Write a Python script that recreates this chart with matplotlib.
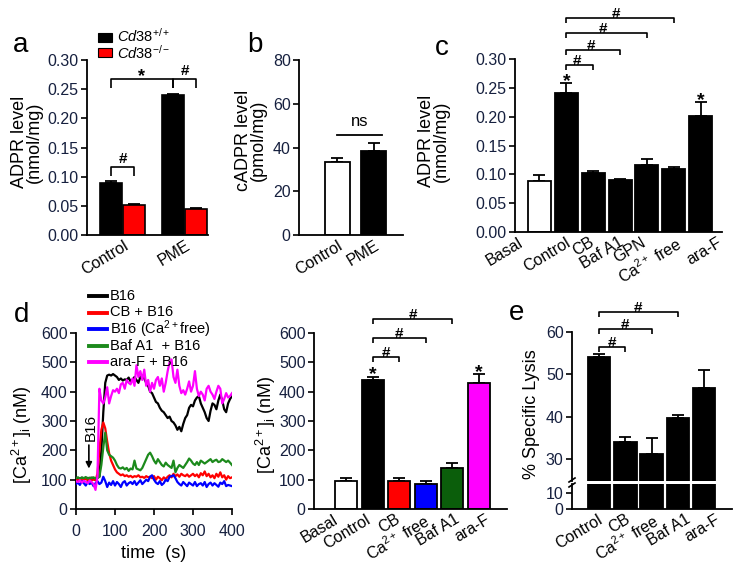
import numpy as np
import matplotlib
matplotlib.use('Agg')
import matplotlib.pyplot as plt
from matplotlib.lines import Line2D
from matplotlib.patches import Rectangle

plt.rcParams['font.family'] = ['Liberation Sans', 'DejaVu Sans']
plt.rcParams['mathtext.fontset'] = 'custom'
plt.rcParams['mathtext.rm'] = 'Liberation Sans'
plt.rcParams['mathtext.it'] = 'Liberation Sans:italic'
plt.rcParams['mathtext.bf'] = 'Liberation Sans:bold'

# ---------------- data ----------------
a_groups = ['Control', 'PME']
a_wt = [0.090, 0.240]
a_wt_err = [0.003, 0.002]
a_ko = [0.052, 0.045]
a_ko_err = [0.002, 0.002]

b_cats = ['Control', 'PME']
b_vals = [33.5, 38.5]
b_err = [1.5, 3.5]

c_cats = ['Basal', 'Control', 'CB', 'Baf A1', 'GPN', 'Ca$^{2+}$ free', 'ara-F']
c_vals = [0.089, 0.241, 0.102, 0.090, 0.116, 0.110, 0.201]
c_err = [0.009, 0.017, 0.004, 0.002, 0.011, 0.003, 0.024]

d_time = list(range(0, 401, 5))
d_b16 = [103, 106, 104, 107, 105, 103, 106, 104, 107, 105, 104, 106,
         110, 200, 330, 430, 455, 458, 455, 460, 455, 450, 440, 445, 438,
         442, 440, 448, 435, 440, 450, 440, 430, 450, 455, 445, 430, 420,
         400, 395, 380, 365, 360, 345, 335, 330, 320, 310, 315, 300, 295,
         285, 270, 280, 265, 290, 310, 320, 345, 355, 350, 370, 380, 385,
         360, 345, 330, 310, 300, 335, 360, 355, 340, 370, 390, 370, 340,
         330, 360, 375, 385]
d_cb = [100, 98, 102, 97, 100, 103, 98, 101, 99, 100, 98, 120,
        200, 270, 295, 275, 230, 190, 165, 150, 135, 125, 120, 115, 118,
        112, 115, 110, 113, 108, 112, 110, 115, 108, 110, 106, 112, 108,
        110, 105, 112, 100, 110, 105, 98, 108, 102, 110, 115, 108, 120,
        112, 118, 110, 120, 115, 112, 118, 110, 115, 120, 112, 118, 108,
        122, 115, 128, 112, 120, 108, 115, 105, 120, 110, 125, 108, 115,
        100, 112, 105, 108]
d_cafree = [85, 90, 82, 95, 88, 80, 92, 85, 90, 78, 88, 95,
            85, 90, 110, 95, 75, 90, 82, 95, 80, 92, 85, 75, 90,
            95, 80, 88, 92, 85, 95, 82, 90, 98, 85, 92, 100, 95,
            110, 115, 100, 90, 85, 95, 82, 88, 100, 95, 110, 112, 115,
            105, 92, 85, 80, 92, 85, 78, 90, 85, 80, 92, 78, 85,
            88, 80, 92, 75, 85, 90, 80, 88, 82, 76, 90, 85, 95,
            78, 82, 80, 78]
d_baf = [105, 108, 104, 107, 105, 109, 104, 107, 105, 108, 104, 106,
         110, 150, 210, 260, 200, 185, 180, 175, 165, 150, 140, 138, 142,
         135, 140, 130, 138, 135, 165, 138, 135, 132, 140, 155, 170, 185,
         192, 180, 165, 155, 170, 160, 150, 145, 158, 150, 145, 140, 165,
         125, 140, 150, 145, 140, 150, 160, 172, 165, 155, 150, 160, 150,
         165, 160, 155, 160, 165, 170, 160, 165, 168, 160, 162, 170, 165,
         160, 165, 158, 150]
d_araf = [95, 92, 98, 90, 96, 93, 88, 97, 92, 85, 65, 110,
          410, 370, 360, 380, 415, 360, 385, 405, 400, 410, 395, 425, 430,
          410, 440, 430, 425, 445, 420, 490, 450, 470, 440, 475, 420, 440,
          400, 430, 410, 440, 450, 420, 445, 400, 430, 470, 500, 510, 450,
          430, 475, 420, 395, 405, 390, 410, 435, 400, 420, 470, 410, 385,
          400, 390, 370, 410, 420, 400, 390, 375, 400, 420, 410, 360, 375,
          395, 380, 385, 395]
d_series_labels = ['B16', 'CB + B16', 'B16 (Ca$^{2+}$free)', 'Baf A1  + B16', 'ara-F + B16']

dbar_cats = ['Basal', 'Control', 'CB', 'Ca$^{2+}$ free', 'Baf A1', 'ara-F']
dbar_vals = [96, 439, 96, 85, 139, 428]
dbar_err = [9, 12, 9, 11, 19, 32]

e_cats = ['Control', 'CB', 'Ca$^{2+}$ free', 'Baf A1', 'ara-F']
e_vals = [54.1, 34.0, 31.2, 39.8, 46.8]
e_err = [0.6, 1.3, 3.8, 0.7, 4.2]

# ---------------- layout helpers ----------------
W, H = 735, 566
fig = plt.figure(figsize=(7.35, 5.66), dpi=100)

def rect(l, t, r, b):
    return [l / W, 1 - b / H, (r - l) / W, (b - t) / H]

def fx(x):
    return x / W

def fy(y):
    return 1 - y / H

TICK_C = '#16203f'
FS_TICK = 11.5
FS_LAB = 13
ROT = 31

def style(ax):
    for s in ['top', 'right']:
        ax.spines[s].set_visible(False)
    for s in ['left', 'bottom']:
        ax.spines[s].set_linewidth(1.3)
    ax.tick_params(axis='y', direction='out', length=4, width=1.2,
                   labelsize=FS_TICK, labelcolor=TICK_C, pad=2)
    ax.tick_params(axis='x', length=0, labelsize=FS_TICK, pad=2)

def xlabels(ax, pos, labels):
    ax.set_xticks(pos)
    ax.set_xticklabels(labels, rotation=ROT, ha='right', va='top',
                       rotation_mode='anchor')

def errs(ax, x, v, e):
    ax.errorbar(x, v, yerr=[np.zeros(len(e)), e], fmt='none', ecolor='k',
                elinewidth=1.3, capsize=4, capthick=1.3, zorder=1)

def bracket(ax, x1, x2, y, h, txt, off=3, fs=11, tx=None):
    ax.plot([x1, x1, x2, x2], [y - h, y, y, y - h], color='k', lw=1.2,
            clip_on=False, solid_capstyle='butt')
    xm = (x1 + x2) / 2 if tx is None else tx
    ax.annotate(txt, xy=(xm, y), xytext=(0, off),
                textcoords='offset points', ha='center', va='baseline',
                fontsize=fs, fontweight='bold', annotation_clip=False)

def star(ax, x, y, off=-2, fs=14):
    ax.annotate('*', xy=(x, y), xytext=(0, off), textcoords='offset points',
                ha='center', va='baseline', fontsize=fs, fontweight='bold',
                annotation_clip=False)

def ylabel(x, y, s, fs=FS_LAB):
    fig.text(fx(x), fy(y), s, rotation=90, ha='center', va='center',
             fontsize=fs, linespacing=0.85)

def letter(x, y, s):
    fig.text(fx(x), fy(y), s, ha='left', va='baseline', fontsize=20)

# ---------------- panel a ----------------
axa = fig.add_axes(rect(87, 60, 208, 235))
style(axa)
ga = np.arange(len(a_groups))
wa = 0.355
off_a = 0.19
axa.bar(ga - off_a, a_wt, width=wa, color='black', edgecolor='black', lw=1.2, zorder=2)
axa.bar(ga + off_a, a_ko, width=wa, color='#ff0000', edgecolor='black', lw=1.2, zorder=2)
errs(axa, ga - off_a, a_wt, a_wt_err)
errs(axa, ga + off_a, a_ko, a_ko_err)
axa.set_xlim(-0.573, 1.379)
axa.set_ylim(0, 0.30)
axa.set_yticks(np.arange(0, 0.301, 0.05))
axa.set_yticklabels(['%.2f' % v for v in np.arange(0, 0.301, 0.05)])
xlabels(axa, ga + 0.02, a_groups)
bracket(axa, -off_a, off_a, 0.117, 0.016, '#')
bracket(axa, -off_a, 1 - off_a, 0.268, 0.016, '*', off=-2, fs=13)
bracket(axa, 1 - off_a, 1 + off_a, 0.268, 0.016, '#')
ylabel(27, 142, 'ADPR level\n(nmol/mg)')
letter(13, 52, 'a')
# legend a
for (yy, ty, col, lab) in [(33, 36.0, 'black', '$\\mathit{Cd38}^{+/+}$'),
                           (48, 53.0, '#ff0000', '$\\mathit{Cd38}^{-/-}$')]:
    fig.patches.append(Rectangle((fx(98), fy(yy + 9)), 14 / W, 9 / H,
                                 facecolor=col, edgecolor='black', lw=0.8,
                                 transform=fig.transFigure, figure=fig))
    fig.text(fx(117), fy(ty), lab, ha='left', va='center', fontsize=10.5)

# ---------------- panel b ----------------
axb = fig.add_axes(rect(299, 60, 403, 235))
style(axb)
gb = np.arange(len(b_cats))
axb.bar(gb, b_vals, width=0.685, color=['white', 'black'], edgecolor='black', lw=1.3, zorder=2)
errs(axb, gb, b_vals, b_err)
axb.set_xlim(-1.055, 1.795)
axb.set_ylim(0, 80)
axb.set_yticks([0, 20, 40, 60, 80])
xlabels(axb, gb, b_cats)
axb.plot([0, 1.22], [45.7, 45.7], color='k', lw=1.3, clip_on=False)
axb.text(0.61, 48.5, 'ns', ha='center', va='bottom', fontsize=12)
ylabel(251, 140, 'cADPR level\n(pmol/mg)')
letter(247, 52, 'b')

# ---------------- panel c ----------------
axc = fig.add_axes(rect(515, 59, 722, 232))
style(axc)
gc = np.arange(len(c_cats))
colc = ['white'] + ['black'] * (len(c_cats) - 1)
axc.bar(gc, c_vals, width=0.857, color=colc, edgecolor='black', lw=1.3, zorder=2)
errs(axc, gc, c_vals, c_err)
axc.set_xlim(-0.912, 6.797)
axc.set_ylim(0, 0.30)
axc.set_yticks(np.arange(0, 0.301, 0.05))
axc.set_yticklabels(['%.2f' % v for v in np.arange(0, 0.301, 0.05)])
c_lab_shift = [-0.80, -0.05, -0.15, -0.08, -0.25, 0.05, 0.62]
xlabels(axc, gc + np.array(c_lab_shift), c_cats)
for tgt, yb, tx in zip([2, 3, 4, 5], [0.2894, 0.3154, 0.3449, 0.3709],
                       [1.40, 1.92, 2.37, 2.85]):
    bracket(axc, 1, tgt, yb, 0.0087, '#', off=0, tx=tx)
star(axc, 1, c_vals[1] + c_err[1])
star(axc, 6, c_vals[6] + c_err[6])
ylabel(434, 141, 'ADPR level\n(nmol/mg)')
letter(435, 55, 'c')

# ---------------- panel d (trace) ----------------
axd = fig.add_axes(rect(76, 333, 232, 509))
style(axd)
axd.tick_params(axis='x', direction='out', length=4, width=1.2,
                labelsize=FS_TICK, labelcolor=TICK_C, pad=7)
d_colors = ['black', '#ff0000', '#0000ff', '#1c8a1c', '#ff00ff']
d_data = [d_b16, d_cb, d_cafree, d_baf, d_araf]
order = [2, 1, 3, 0, 4]
for i in order:
    axd.plot(d_time, d_data[i], color=d_colors[i], lw=1.6, zorder=3 + i)
axd.set_xlim(0, 400)
axd.set_ylim(0, 600)
axd.set_xticks([0, 100, 200, 300, 400])
axd.set_yticks([0, 100, 200, 300, 400, 500, 600])
axd.set_xlabel('time  (s)', fontsize=FS_LAB, labelpad=4)
axd.annotate('', xy=(33, 138), xytext=(33, 218),
             arrowprops=dict(arrowstyle='-|>', color='k', lw=1.2,
                             mutation_scale=9, shrinkA=0, shrinkB=0))
axd.text(37, 278, 'B16', rotation=90, ha='center', va='center', fontsize=11)
ylabel(22, 435, '[Ca$^{2+}$]$_\\mathrm{i}$ (nM)')
letter(14, 322, 'd')
for k, (lab, col) in enumerate(zip(d_series_labels, d_colors)):
    yy = 296 + k * 16.5
    fig.add_artist(Line2D([fx(89), fx(107)], [fy(yy), fy(yy)], color=col, lw=2.8,
                          transform=fig.transFigure))
    fig.text(fx(110), fy(yy), lab, ha='left', va='center', fontsize=10.5)

# ---------------- panel d (bars) ----------------
axd2 = fig.add_axes(rect(314, 333, 507, 509))
style(axd2)
gd = np.arange(len(dbar_cats))
cold = ['white', 'black', '#ff0000', '#0000ff', '#0b5e0b', '#ff00ff']
axd2.bar(gd, dbar_vals, width=0.83, color=cold, edgecolor='black', lw=1.3, zorder=2)
errs(axd2, gd, dbar_vals, dbar_err)
axd2.set_xlim(-1.203, 6.05)
axd2.set_ylim(0, 600)
axd2.set_yticks([0, 100, 200, 300, 400, 500, 600])
d_lab_shift = [-0.50, -0.28, -0.16, -0.08, 0.08, 0.22]
xlabels(axd2, gd + np.array(d_lab_shift), dbar_cats)
for tgt, yb in zip([2, 3, 4], [518, 583, 648]):
    bracket(axd2, 1, tgt, yb, 17, '#', off=0)
star(axd2, 1, dbar_vals[1] + dbar_err[1])
star(axd2, 5, dbar_vals[5] + dbar_err[5])
ylabel(266, 425, '[Ca$^{2+}$]$_\\mathrm{i}$ (nM)')

# ---------------- panel e (broken axis) ----------------
ge = np.arange(len(e_cats))
axe = fig.add_axes(rect(572, 332, 732, 481))
axe0 = fig.add_axes(rect(572, 484, 732, 509))
for ax in (axe, axe0):
    style(ax)
    ax.bar(ge, e_vals, width=0.855, color='black', edgecolor='black', lw=1.3, zorder=2)
    ax.set_xlim(-1.027, 5.057)
axe.spines['bottom'].set_visible(False)
axe.tick_params(axis='x', bottom=False, labelbottom=False)
errs(axe, ge, e_vals, e_err)
axe.set_ylim(24.8, 60)
axe.set_yticks([30, 40, 50, 60])
axe0.set_ylim(0, 15.6)
axe0.set_yticks([0, 10])
e_lab_shift = [-0.05, -0.02, 0.05, 0.26, 0.40]
xlabels(axe0, ge + np.array(e_lab_shift), e_cats)
for tgt, yb in zip([1, 2, 3], [56.4, 60.7, 64.7]):
    bracket(axe, 0, tgt, yb, 1.2, '#', off=0)
ylabel(531, 414, '% Specific Lysis')
letter(509, 320, 'e')
# break marks on spine
for yy in (480, 485):
    fig.add_artist(Line2D([fx(569), fx(575)], [fy(yy + 2), fy(yy - 2)], color='k', lw=1.2,
                          transform=fig.transFigure))

fig.savefig('out.png', dpi=100)
